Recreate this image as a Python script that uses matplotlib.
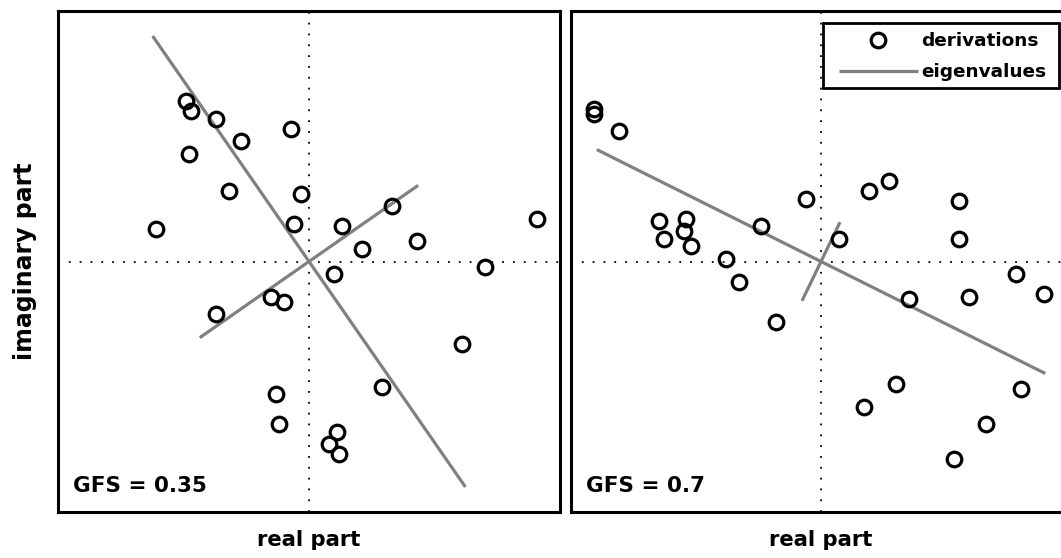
import matplotlib
matplotlib.use("Agg")
import matplotlib.pyplot as plt
from matplotlib.patches import Rectangle

plt.rcParams['font.family'] = ['DejaVu Sans']
plt.rcParams['font.weight'] = 'bold'

# Left panel (GFS = 0.35): derivations (real, imaginary)
left_re = [-0.49, -0.47, -0.37, -0.07, -0.27, -0.48, -0.32, -0.03, -0.61, -0.06,
           0.13, 0.33, 0.21, 0.43, 0.91, 0.70, 0.10, -0.15, -0.10, -0.37,
           0.61, 0.29, -0.13, -0.12, 0.11, 0.08, 0.12]
left_im = [0.64, 0.60, 0.57, 0.53, 0.48, 0.43, 0.28, 0.27, 0.13, 0.15,
           0.14, 0.22, 0.05, 0.08, 0.17, -0.02, -0.05, -0.14, -0.16, -0.21,
           -0.33, -0.50, -0.53, -0.65, -0.68, -0.73, -0.77]
# eigen-directions (half-axis vectors)
left_eig_re = [-0.623, 0.435]
left_eig_im = [0.900, 0.304]
left_gfs = "GFS = 0.35"

# Right panel (GFS = 0.7)
right_re = [-0.91, -0.91, -0.81, -0.06, 0.19, 0.27, 0.55, -0.65, -0.54, -0.55,
            -0.63, -0.52, -0.24, 0.07, 0.55, -0.38, 0.78, -0.33, 0.89, 0.59,
            0.35, -0.18, 0.30, 0.80, 0.17, 0.66, 0.53]
right_im = [0.61, 0.59, 0.52, 0.25, 0.28, 0.32, 0.24, 0.16, 0.17, 0.12,
            0.09, 0.06, 0.14, 0.09, 0.09, 0.01, -0.05, -0.08, -0.13, -0.14,
            -0.15, -0.24, -0.49, -0.51, -0.58, -0.65, -0.79]
right_eig_re = [-0.897, 0.076]
right_eig_im = [0.447, 0.157]
right_gfs = "GFS = 0.7"

legend_labels = ['derivations', 'eigenvalues']
xlabel = 'real part'
ylabel = 'imaginary part'

W, H = 1061, 558
fig = plt.figure(figsize=(W / 100, H / 100), dpi=100)

def px_axes(x0, x1, y0, y1):
    return fig.add_axes([x0 / W, 1 - y1 / H, (x1 - x0) / W, (y1 - y0) / H])

axL = px_axes(58, 560, 11, 512)
axR = px_axes(571, 1071, 11, 512)

FS = 15.2

def draw(ax, re, im, ere, eim, gfs):
    ax.axhline(0, color='black', lw=1.3, ls=(0, (1, 5)), zorder=1)
    ax.axvline(0, color='black', lw=1.3, ls=(0, (1, 5)), zorder=1)
    for vr, vi in zip(ere, eim):
        ln, = ax.plot([-vr, vr], [-vi, vi], color='#808080', lw=2.3, zorder=2,
                      solid_capstyle='butt')
    pts, = ax.plot(re, im, 'o', mfc='none', mec='black', ms=10.5, mew=2.3,
                   zorder=3, ls='none')
    ax.set_xlim(-1, 1)
    ax.set_ylim(-1, 1)
    ax.set_xticks([])
    ax.set_yticks([])
    for s in ax.spines.values():
        s.set_linewidth(2.2)
    ax.text(0.029, 0.04, gfs, transform=ax.transAxes, fontsize=15.5,
            fontweight='bold', ha='left', va='baseline')
    ax.set_xlabel(xlabel, fontsize=FS, fontweight='bold', labelpad=13)
    return pts, ln

draw(axL, left_re, left_im, left_eig_re, left_eig_im, left_gfs)
pts, ln = draw(axR, right_re, right_im, right_eig_re, right_eig_im, right_gfs)
axL.set_ylabel(ylabel, fontsize=17, fontweight='bold', labelpad=15)

# legend frame
fig.patches.append(Rectangle((823 / W, 1 - 88 / H), (1059 - 823) / W, 65 / H,
                             transform=fig.transFigure, fill=True,
                             facecolor='white', edgecolor='black', lw=2.0,
                             zorder=5))
leg = fig.legend([pts, ln], legend_labels,
                 loc='upper left', bbox_to_anchor=(839 / W, 1 - 32 / H),
                 bbox_transform=fig.transFigure, frameon=False,
                 borderaxespad=0, borderpad=0,
                 prop={'family': 'DejaVu Sans', 'weight': 'bold', 'size': 13.3},
                 handlelength=4.27, labelspacing=0.73, handletextpad=0.2)
leg.set_zorder(6)

fig.savefig('out.png', dpi=100)
